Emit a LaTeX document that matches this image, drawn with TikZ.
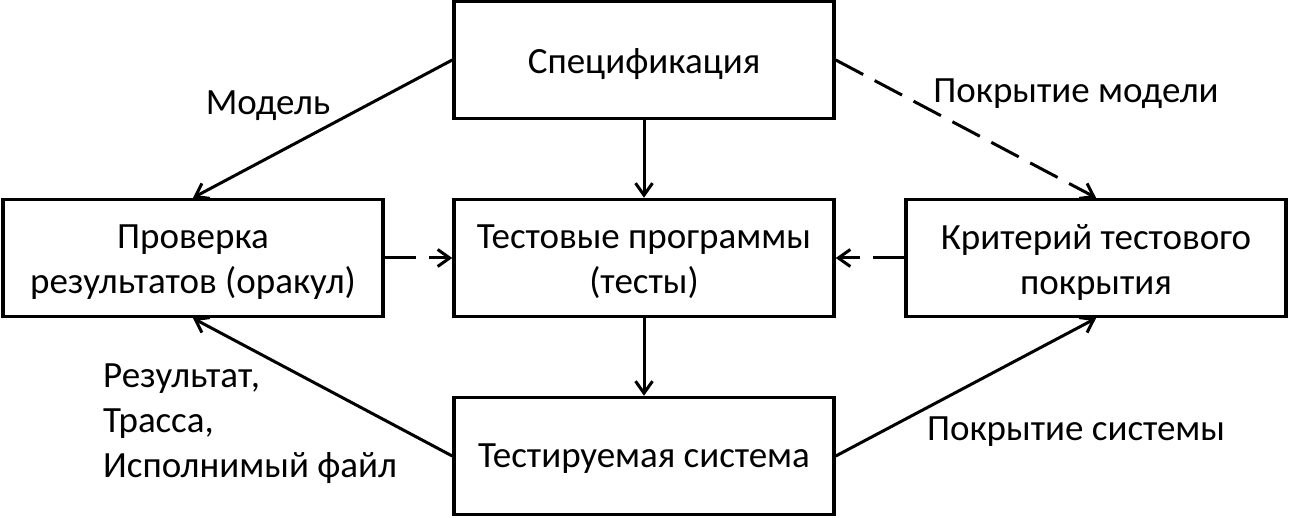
\documentclass[tikz,border=0pt]{standalone}
\usepackage{fontspec}
\setmainfont{Carlito}
\usetikzlibrary{arrows.meta}
\begin{document}
\begin{tikzpicture}[x=1pt,y=-1pt,
  box/.style={draw,line width=3.5pt,minimum width=380pt,minimum height=117pt,inner sep=0pt},
  txt/.style={inner sep=0pt,align=center,font=\fontsize{37}{45}\selectfont},
  lbl/.style={inner sep=0pt,font=\fontsize{37}{45}\selectfont},
  conn/.style={line width=3pt,-{Straight Barb[length=12pt,width=17pt,line width=3pt]}},
  dconn/.style={conn,dash pattern=on 31pt off 13pt}]
\useasboundingbox (0,0) rectangle (1289,518);
\node[box] (spec) at (644,60) {};
\node[box] (prov) at (193,258) {};
\node[box] (test) at (644,258) {};
\node[box] (krit) at (1096,258) {};
\node[box] (sys) at (644,456) {};
\node[txt] (tspec) at ([yshift=-4pt]spec.center) {Спецификация};
\node[txt] (tprov) at ([yshift=-4pt]prov.center) {Проверка\\результатов (оракул)};
\node[txt] (ttest) at ([yshift=-4pt]test.center) {Тестовые программы\\(тесты)};
\node[txt] (tkrit) at ([yshift=-4pt]krit.center) {Критерий тестового\\покрытия};
\node[txt] (tsys) at ([yshift=-3pt]sys.center) {Тестируемая система};
\draw[conn] (spec.west) -- (prov.north);
\draw[conn] (spec.south) -- (test.north);
\draw[dconn] (spec.east) -- (krit.north);
\draw[dconn] (prov.east) -- (test.west);
\draw[dconn] (krit.west) -- (test.east);
\draw[conn] (test.south) -- (sys.north);
\draw[conn] (sys.west) -- (prov.south);
\draw[conn] (sys.east) -- (krit.south);
\node[lbl] (lm) at (268,106) {Модель};
\node[lbl] (lpm) at (1076,94) {Покрытие модели};
\node[lbl] (lps) at (1076,432) {Покрытие системы};
\node[lbl,align=left,anchor=west] (lr) at (103,424) {Результат,\\Трасса,\\Исполнимый файл};
\end{tikzpicture}
\end{document}
